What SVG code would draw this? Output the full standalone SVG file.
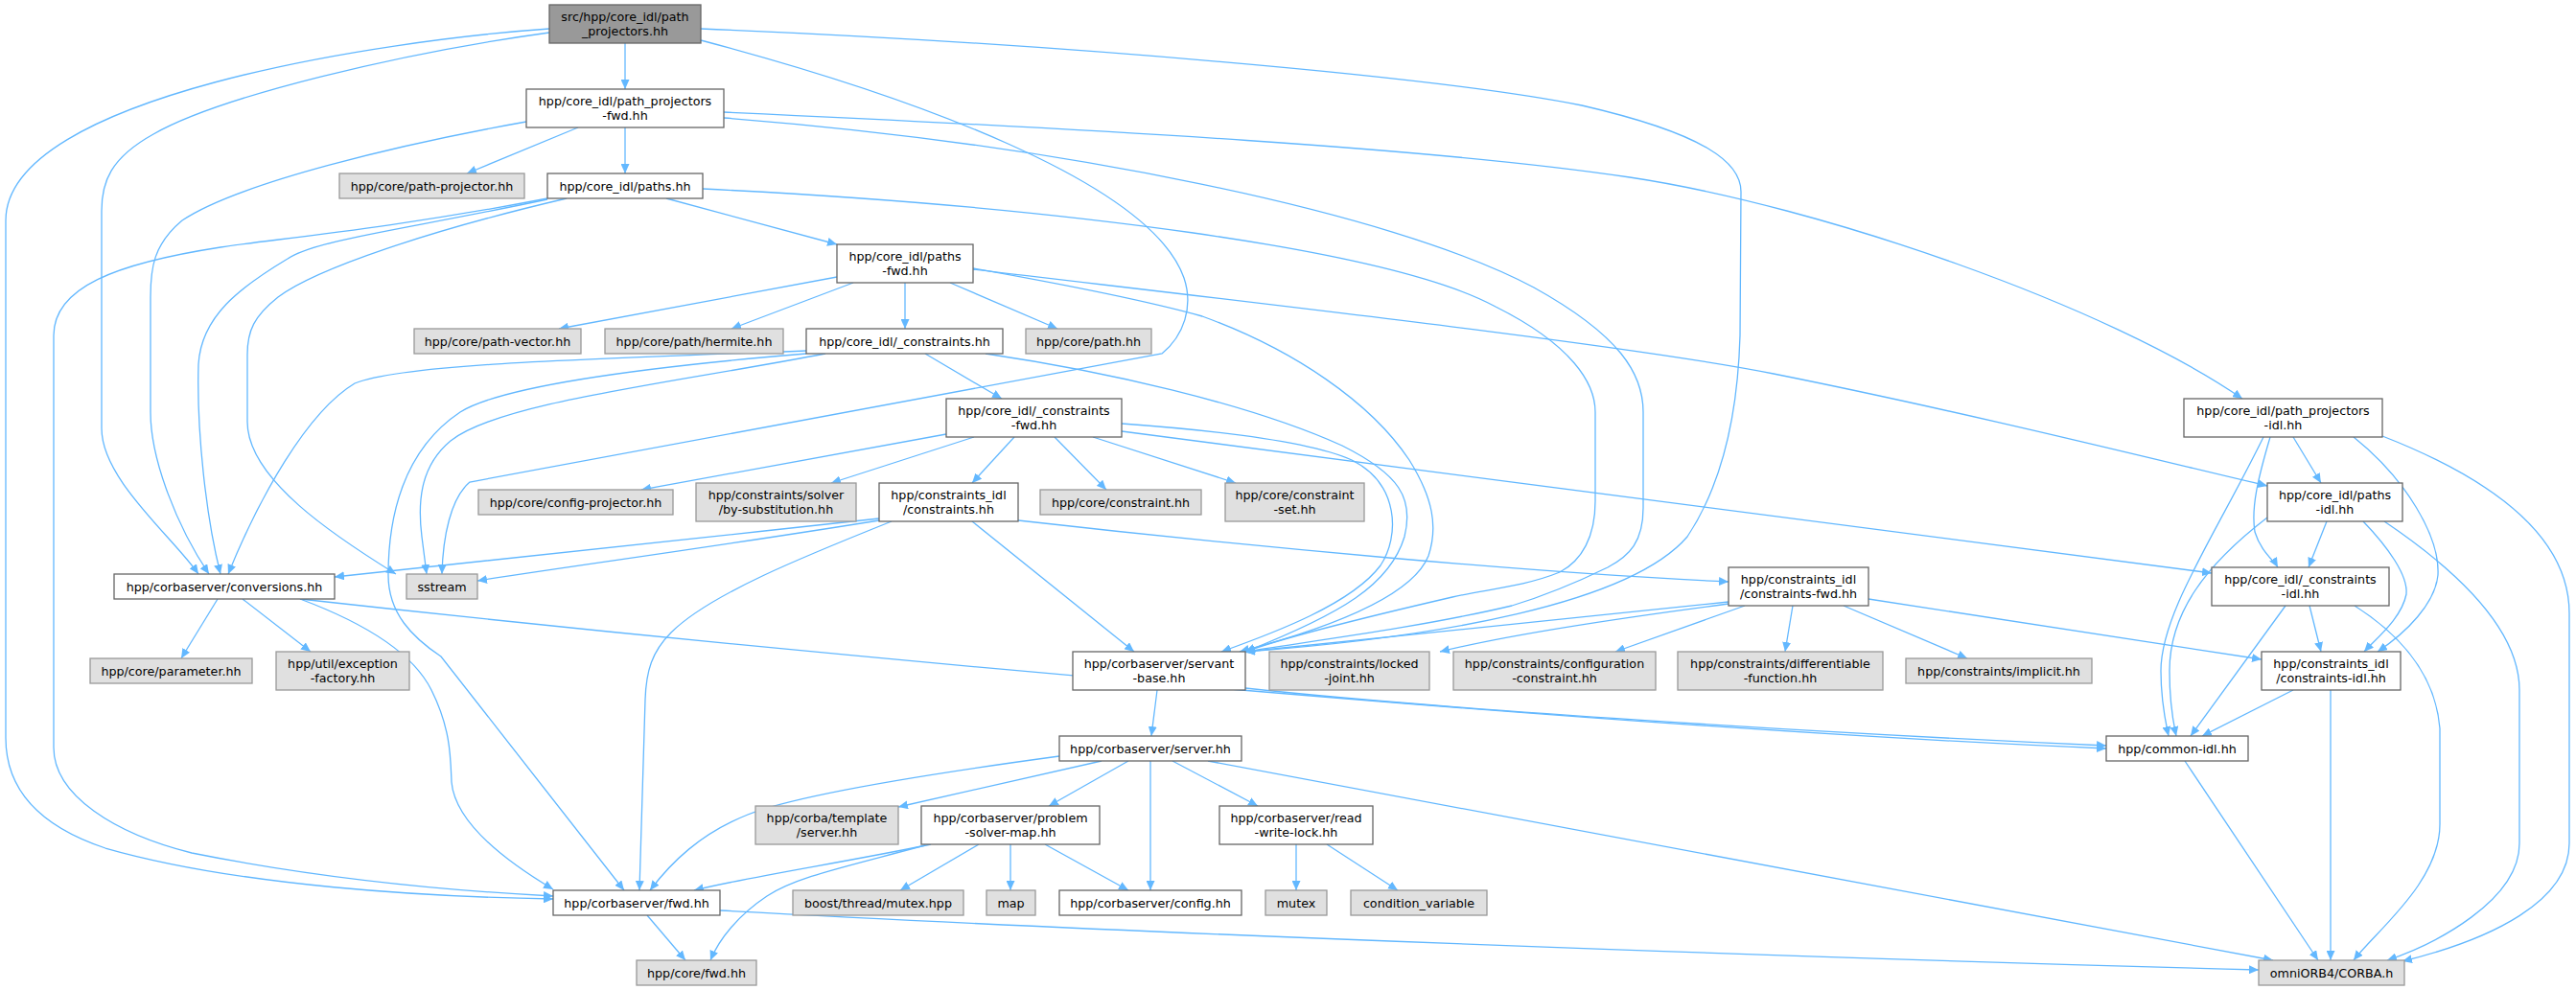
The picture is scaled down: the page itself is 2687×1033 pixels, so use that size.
<svg xmlns="http://www.w3.org/2000/svg" width="2687" height="1033" viewBox="0 0 2687 1033">
<style>
.n{fill:#ffffff;stroke:#666666;stroke-width:1.3}
.g{fill:#e0e0e0;stroke:#999999;stroke-width:1.3}
.r{fill:#999999;stroke:#666666;stroke-width:1.3}
text{font-family:"DejaVu Sans","Liberation Sans",sans-serif;font-size:12.7px;fill:#000000;text-anchor:middle}
#edges path{fill:none;stroke:#63b8ff;stroke-width:1.3;marker-end:url(#a)}
</style>
<defs>
<marker id="a" viewBox="0 0 10 9" refX="10" refY="4.5" markerWidth="10" markerHeight="9" markerUnits="userSpaceOnUse" orient="auto"><path d="M0,0L10,4.5L0,9z" fill="#63b8ff" stroke="none"/></marker>
</defs>
<rect x="0" y="0" width="2687" height="1033" fill="#ffffff"/>
<g id="edges">
<path d="M652,45 L652,93"/>
<path d="M573,30 C400,42 6,100 6,230 L6,770 C6,830 50,865 110,885 C250,925 450,936 577,938"/>
<path d="M573,34 C420,55 230,100 160,140 C115,165 106,190 106,220 L106,447 C106,500 180,560 207,599"/>
<path d="M549,127 C420,150 250,190 190,230 C160,255 157,280 157,310 L157,430 C157,480 185,550 218,599"/>
<path d="M603,133 L487,181"/>
<path d="M652,133 L652,181"/>
<path d="M755,117 C1150,135 1500,155 1700,185 C1900,215 2200,320 2339,416"/>
<path d="M755,123 C1100,150 1450,220 1600,300 C1690,350 1714,390 1714,430 L1714,530 C1714,565 1700,580 1677,592 C1640,610 1600,625 1577,632 C1480,655 1360,670 1299,680"/>
<path d="M733,197 C1100,215 1450,260 1560,320 C1640,360 1664,400 1664,430 L1664,523 C1664,560 1650,585 1627,597 C1590,612 1550,615 1515,623 C1420,645 1340,665 1299,680"/>
<path d="M695,207 L873,255"/>
<path d="M571,208 C420,240 330,250 300,270 C250,300 210,330 207,380 C205,450 215,540 230,599"/>
<path d="M571,207 C400,240 280,250 230,258 C120,275 56,300 56,350 L56,780 C56,830 120,870 200,890 C350,920 480,930 577,935"/>
<path d="M591,207 C450,240 330,280 290,310 C265,330 258,345 258,370 L258,440 C258,500 350,560 413,599"/>
<path d="M873,289 L583,343"/>
<path d="M890,295 L763,343"/>
<path d="M944,295 L944,343"/>
<path d="M991,295 L1103,343"/>
<path d="M1015,280 C1100,295 1200,315 1254,330 C1350,365 1430,420 1470,480 C1495,520 1500,550 1490,580 C1470,630 1350,665 1293,680"/>
<path d="M1015,281 C1300,315 1700,360 1850,390 C2050,430 2250,480 2365,507"/>
<path d="M965,369 L1045,416"/>
<path d="M1028,369 C1150,387 1300,420 1400,465 C1460,495 1475,520 1465,560 C1450,610 1400,640 1299,680"/>
<path d="M841,366 C600,375 420,380 370,400 C320,430 270,520 238,599"/>
<path d="M861,369 C700,400 520,420 470,460 C440,485 435,520 440,560 L445,599"/>
<path d="M841,369 C650,385 520,405 480,430 C420,470 405,540 405,600 C405,640 430,665 460,685 L651,929"/>
<path d="M987,453 L669,511"/>
<path d="M1016,456 L867,504"/>
<path d="M1058,456 L1014,504"/>
<path d="M1100,456 L1154,511"/>
<path d="M1140,456 L1289,504"/>
<path d="M1170,442 C1280,450 1370,462 1410,480 C1460,505 1460,560 1440,590 C1410,630 1330,660 1274,680"/>
<path d="M1170,450 L2307,598"/>
<path d="M917,541 C700,565 450,590 349,602"/>
<path d="M917,543 C750,570 600,590 498,606"/>
<path d="M930,544 C840,580 740,620 700,660 C680,680 674,700 673,730 L667,929"/>
<path d="M1062,543 C1300,570 1600,598 1803,607"/>
<path d="M1014,544 L1183,680"/>
<path d="M1803,628 C1600,650 1400,668 1299,680"/>
<path d="M1803,630 C1650,650 1550,668 1502,680"/>
<path d="M1820,632 L1685,680"/>
<path d="M1870,632 L1862,680"/>
<path d="M1923,632 L2052,687"/>
<path d="M1949,625 L2359,688"/>
<path d="M2361,456 C2310,560 2254,640 2254,700 C2254,730 2258,750 2262,768"/>
<path d="M2368,456 C2355,500 2348,530 2352,555 C2358,575 2372,585 2376,592"/>
<path d="M2392,456 L2421,504"/>
<path d="M2455,456 C2510,500 2545,560 2543,600 C2540,630 2510,660 2480,680"/>
<path d="M2485,455 C2600,500 2680,560 2680,640 L2680,880 C2680,940 2600,980 2506,1003"/>
<path d="M2365,540 C2300,590 2263,640 2263,700 C2263,730 2266,750 2270,768"/>
<path d="M2427,544 L2408,592"/>
<path d="M2465,544 C2490,570 2512,600 2510,620 C2505,645 2480,665 2466,680"/>
<path d="M2487,544 C2570,600 2628,660 2628,720 L2628,880 C2628,940 2540,985 2490,1002"/>
<path d="M2384,632 L2285,768"/>
<path d="M2409,632 L2421,680"/>
<path d="M2456,632 C2500,660 2540,700 2545,760 L2545,860 C2545,920 2480,970 2455,1002"/>
<path d="M2392,720 L2297,768"/>
<path d="M2431,720 L2431,1002"/>
<path d="M2279,794 L2418,1002"/>
<path d="M1207,720 L1201,768"/>
<path d="M1299,718 C1500,740 1900,765 2197,778"/>
<path d="M313,625 C900,690 1700,760 2197,781"/>
<path d="M227,625 L189,687"/>
<path d="M253,625 L324,680"/>
<path d="M313,625 C380,650 430,680 450,720 C470,760 470,790 471,816 C475,860 530,900 577,928"/>
<path d="M1105,789 C950,810 830,830 780,850 C730,870 700,900 678,929"/>
<path d="M1149,794 L937,842"/>
<path d="M1177,794 L1094,841"/>
<path d="M1200,794 L1200,929"/>
<path d="M1223,794 L1312,841"/>
<path d="M1260,794 L2371,1002"/>
<path d="M971,881 C880,900 780,915 724,929"/>
<path d="M965,882 C880,905 830,915 800,935 C770,955 750,980 741,1002"/>
<path d="M1021,881 L939,929"/>
<path d="M1054,881 L1054,929"/>
<path d="M1090,881 L1177,929"/>
<path d="M1352,881 L1352,929"/>
<path d="M1384,881 L1458,929"/>
<path d="M675,955 L715,1002"/>
<path d="M751,950 C1200,975 1900,1000 2356,1012"/>
<path d="M731,42 C950,100 1200,190 1235,290 C1245,320 1235,350 1212,369 L490,503 C470,520 462,560 461,599"/>
<path d="M731,30 C1100,45 1500,80 1650,110 C1780,140 1816,170 1816,200 L1815,350 C1813,420 1800,500 1760,560 C1700,630 1500,665 1299,680"/>
</g>
<g id="node_root"><rect class="r" x="573" y="5" width="158" height="40"/><text x="652" y="22">src/hpp/core_idl/path</text><text x="652" y="37">_projectors.hh</text></g>
<g id="node_ppfwd"><rect class="n" x="549" y="93" width="206" height="40"/><text x="652" y="110">hpp/core_idl/path_projectors</text><text x="652" y="125">-fwd.hh</text></g>
<g id="node_path_projector"><rect class="g" x="354" y="181" width="193" height="26"/><text x="450.5" y="198.5">hpp/core/path-projector.hh</text></g>
<g id="node_paths"><rect class="n" x="571" y="181" width="162" height="26"/><text x="652" y="198.5">hpp/core_idl/paths.hh</text></g>
<g id="node_paths_fwd"><rect class="n" x="873" y="255" width="142" height="40"/><text x="944" y="272">hpp/core_idl/paths</text><text x="944" y="287">-fwd.hh</text></g>
<g id="node_path_vector"><rect class="g" x="432" y="343" width="174" height="26"/><text x="519" y="360.5">hpp/core/path-vector.hh</text></g>
<g id="node_hermite"><rect class="g" x="631" y="343" width="186" height="26"/><text x="724" y="360.5">hpp/core/path/hermite.hh</text></g>
<g id="node_constraints_hh"><rect class="n" x="841" y="343" width="205" height="26"/><text x="943.5" y="360.5">hpp/core_idl/_constraints.hh</text></g>
<g id="node_path_hh"><rect class="g" x="1070" y="343" width="131" height="26"/><text x="1135.5" y="360.5">hpp/core/path.hh</text></g>
<g id="node_constraints_fwd_core"><rect class="n" x="987" y="416" width="183" height="40"/><text x="1078.5" y="433">hpp/core_idl/_constraints</text><text x="1078.5" y="448">-fwd.hh</text></g>
<g id="node_pp_idl"><rect class="n" x="2278" y="416" width="207" height="40"/><text x="2381.5" y="433">hpp/core_idl/path_projectors</text><text x="2381.5" y="448">-idl.hh</text></g>
<g id="node_config_projector"><rect class="g" x="499" y="511" width="203" height="26"/><text x="600.5" y="528.5">hpp/core/config-projector.hh</text></g>
<g id="node_by_subst"><rect class="g" x="726" y="504" width="167" height="40"/><text x="809.5" y="521">hpp/constraints/solver</text><text x="809.5" y="536">/by-substitution.hh</text></g>
<g id="node_cidl_constraints"><rect class="n" x="917" y="504" width="145" height="40"/><text x="989.5" y="521">hpp/constraints_idl</text><text x="989.5" y="536">/constraints.hh</text></g>
<g id="node_constraint"><rect class="g" x="1085" y="511" width="168" height="26"/><text x="1169" y="528.5">hpp/core/constraint.hh</text></g>
<g id="node_constraint_set"><rect class="g" x="1278" y="504" width="145" height="40"/><text x="1350.5" y="521">hpp/core/constraint</text><text x="1350.5" y="536">-set.hh</text></g>
<g id="node_paths_idl"><rect class="n" x="2365" y="504" width="141" height="40"/><text x="2435.5" y="521">hpp/core_idl/paths</text><text x="2435.5" y="536">-idl.hh</text></g>
<g id="node_conversions"><rect class="n" x="119" y="599" width="230" height="26"/><text x="234" y="616.5">hpp/corbaserver/conversions.hh</text></g>
<g id="node_sstream"><rect class="g" x="424" y="599" width="74" height="26"/><text x="461" y="616.5">sstream</text></g>
<g id="node_cidl_constraints_fwd"><rect class="n" x="1803" y="592" width="146" height="40"/><text x="1876" y="609">hpp/constraints_idl</text><text x="1876" y="624">/constraints-fwd.hh</text></g>
<g id="node_constraints_idl_core"><rect class="n" x="2307" y="592" width="185" height="40"/><text x="2399.5" y="609">hpp/core_idl/_constraints</text><text x="2399.5" y="624">-idl.hh</text></g>
<g id="node_parameter"><rect class="g" x="94" y="687" width="169" height="26"/><text x="178.5" y="704.5">hpp/core/parameter.hh</text></g>
<g id="node_exception"><rect class="g" x="288" y="680" width="139" height="40"/><text x="357.5" y="697">hpp/util/exception</text><text x="357.5" y="712">-factory.hh</text></g>
<g id="node_servant_base"><rect class="n" x="1119" y="680" width="180" height="40"/><text x="1209" y="697">hpp/corbaserver/servant</text><text x="1209" y="712">-base.hh</text></g>
<g id="node_locked_joint"><rect class="g" x="1324" y="680" width="167" height="40"/><text x="1407.5" y="697">hpp/constraints/locked</text><text x="1407.5" y="712">-joint.hh</text></g>
<g id="node_config_constraint"><rect class="g" x="1516" y="680" width="211" height="40"/><text x="1621.5" y="697">hpp/constraints/configuration</text><text x="1621.5" y="712">-constraint.hh</text></g>
<g id="node_differentiable"><rect class="g" x="1750" y="680" width="214" height="40"/><text x="1857" y="697">hpp/constraints/differentiable</text><text x="1857" y="712">-function.hh</text></g>
<g id="node_implicit"><rect class="g" x="1988" y="687" width="194" height="26"/><text x="2085" y="704.5">hpp/constraints/implicit.hh</text></g>
<g id="node_cidl_constraints_idl"><rect class="n" x="2359" y="680" width="145" height="40"/><text x="2431.5" y="697">hpp/constraints_idl</text><text x="2431.5" y="712">/constraints-idl.hh</text></g>
<g id="node_server"><rect class="n" x="1105" y="768" width="190" height="26"/><text x="1200" y="785.5">hpp/corbaserver/server.hh</text></g>
<g id="node_common_idl"><rect class="n" x="2197" y="768" width="148" height="26"/><text x="2271" y="785.5">hpp/common-idl.hh</text></g>
<g id="node_template_server"><rect class="g" x="788" y="841" width="149" height="40"/><text x="862.5" y="858">hpp/corba/template</text><text x="862.5" y="873">/server.hh</text></g>
<g id="node_psm"><rect class="n" x="961" y="841" width="186" height="40"/><text x="1054" y="858">hpp/corbaserver/problem</text><text x="1054" y="873">-solver-map.hh</text></g>
<g id="node_rwl"><rect class="n" x="1272" y="841" width="160" height="40"/><text x="1352" y="858">hpp/corbaserver/read</text><text x="1352" y="873">-write-lock.hh</text></g>
<g id="node_corba_fwd"><rect class="n" x="577" y="929" width="174" height="26"/><text x="664" y="946.5">hpp/corbaserver/fwd.hh</text></g>
<g id="node_boost_mutex"><rect class="g" x="827" y="929" width="178" height="26"/><text x="916" y="946.5">boost/thread/mutex.hpp</text></g>
<g id="node_map"><rect class="g" x="1029" y="929" width="51" height="26"/><text x="1054.5" y="946.5">map</text></g>
<g id="node_config"><rect class="n" x="1105" y="929" width="190" height="26"/><text x="1200" y="946.5">hpp/corbaserver/config.hh</text></g>
<g id="node_mutex"><rect class="g" x="1320" y="929" width="64" height="26"/><text x="1352" y="946.5">mutex</text></g>
<g id="node_condvar"><rect class="g" x="1409" y="929" width="142" height="26"/><text x="1480" y="946.5">condition_variable</text></g>
<g id="node_core_fwd"><rect class="g" x="664" y="1002" width="125" height="26"/><text x="726.5" y="1019.5">hpp/core/fwd.hh</text></g>
<g id="node_corba_h"><rect class="g" x="2356" y="1002" width="152" height="26"/><text x="2432" y="1019.5">omniORB4/CORBA.h</text></g>
</svg>
